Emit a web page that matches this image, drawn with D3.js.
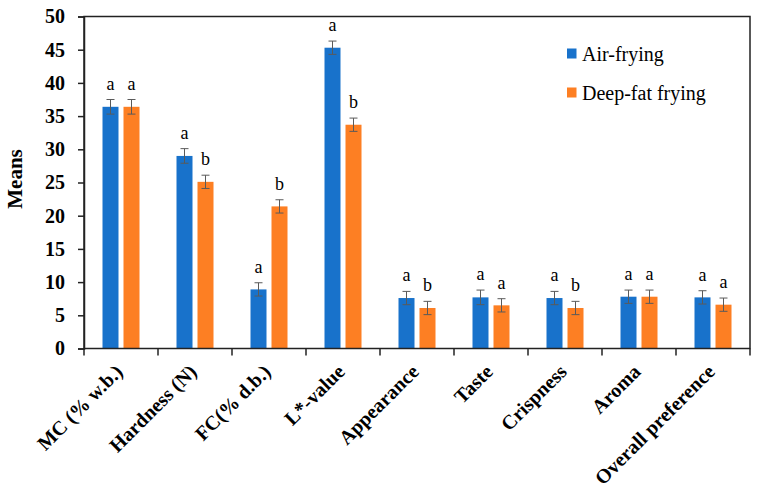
<!DOCTYPE html>
<html><head><meta charset="utf-8">
<script src="https://cdn.jsdelivr.net/npm/d3@7/dist/d3.min.js"></script>
<style>body{margin:0;background:#fff}svg{display:block}</style>
</head><body>
<script>
const categories = ["MC (% w.b.)","Hardness (N)","FC(% d.b.)","L*-value","Appearance","Taste","Crispness","Aroma","Overall preference"];
const seriesNames = ["Air-frying","Deep-fat frying"];
const airFrying = [36.4, 29.0, 8.9, 45.3, 7.6, 7.7, 7.6, 7.8, 7.7];
const deepFat   = [36.4, 25.1, 21.4, 33.7, 6.1, 6.5, 6.1, 7.8, 6.6];
const airErr    = [1.1, 1.1, 1.0, 1.0, 1.0, 1.1, 1.0, 1.0, 1.0];
const deepErr   = [1.1, 1.0, 1.0, 1.0, 1.0, 1.0, 1.0, 1.0, 1.0];
const airLetters  = ["a","a","a","a","a","a","a","a","a"];
const deepLetters = ["a","b","b","b","b","a","b","a","a"];
const yTicks = [0,5,10,15,20,25,30,35,40,45,50];
const colors = ["#1872CB","#FD7F23"];

const W=760,H=493;
const m={left:84,right:10,top:16.5,bottom:145};
const svg=d3.select("body").append("svg").attr("width",W).attr("height",H);
const x=d3.scaleBand().domain(categories).range([m.left,W-m.right]).paddingInner(0).paddingOuter(0);
const y=d3.scaleLinear().domain([0,50]).range([H-m.bottom+0.5,m.top]);
const serif="'Liberation Serif','Times New Roman',serif";

const series=[airFrying,deepFat], errs=[airErr,deepErr], letters=[airLetters,deepLetters];
const barW=16, gap=5;
const off=[-(gap/2+barW),gap/2];

series.forEach((vals,si)=>{
  const g=svg.append("g");
  categories.forEach((c,i)=>{
    const cx=x(c)+x.bandwidth()/2;
    const bx=cx+off[si];
    g.append("rect").attr("x",bx).attr("y",y(vals[i])).attr("width",barW)
      .attr("height",y(0)-y(vals[i])).attr("fill",colors[si]);
    const ex=bx+barW/2, hi=y(vals[i]+errs[si][i]), lo=y(vals[i]-errs[si][i]);
    g.append("line").attr("x1",ex).attr("x2",ex).attr("y1",hi).attr("y2",lo).attr("stroke","#5a5a5a").attr("stroke-width",1);
    [hi,lo].forEach(yy=>g.append("line").attr("x1",ex-4).attr("x2",ex+4).attr("y1",yy).attr("y2",yy).attr("stroke","#5a5a5a").attr("stroke-width",1));
    g.append("text").attr("x",ex).attr("y",hi-10).attr("text-anchor","middle")
      .attr("font-family",serif).attr("font-size",18).attr("fill","#000").text(letters[si][i]);
  });
});

// frame
svg.append("rect").attr("x",m.left).attr("y",m.top).attr("width",W-m.right-m.left).attr("height",y(0)-m.top)
  .attr("fill","none").attr("stroke","#222").attr("stroke-width",1.5);

// y axis
const ya=svg.append("g").attr("transform",`translate(${m.left},0)`)
  .call(d3.axisLeft(y).tickValues(yTicks).tickSize(6).tickPadding(13).tickFormat(d3.format("d")));
ya.select(".domain").attr("stroke","#222").attr("stroke-width",1.5);
ya.selectAll(".tick line").attr("stroke","#222").attr("stroke-width",1.5);
ya.selectAll("text").attr("font-family",serif).attr("font-size",20).attr("font-weight","bold").attr("fill","#000");

// x axis ticks at boundaries
const xa=svg.append("g").attr("transform",`translate(0,${y(0)})`);
const bounds=categories.map(c=>x(c)).concat([W-m.right]);
xa.selectAll("line").data(bounds).enter().append("line")
  .attr("x1",d=>d).attr("x2",d=>d).attr("y1",0).attr("y2",7).attr("stroke","#222").attr("stroke-width",1.5);
xa.selectAll("text").data(categories).enter().append("text")
  .attr("transform",d=>`translate(${x(d)+x.bandwidth()/2-2},${368-y(0)}) rotate(-45)`)
  .attr("text-anchor","end").attr("dy","0.35em")
  .attr("font-family",serif).attr("font-size",20).attr("font-weight","bold").attr("fill","#000").text(d=>d);

// y title
svg.append("text").attr("transform",`translate(22,179) rotate(-90)`)
  .attr("text-anchor","middle").attr("font-family",serif).attr("font-size",21).attr("font-weight","bold").text("Means");

// legend
const lg=svg.append("g");
seriesNames.forEach((n,i)=>{
  const ly=61+i*39;
  lg.append("rect").attr("x",567).attr("y",ly-12.5).attr("width",9.5).attr("height",10).attr("fill",colors[i]);
  lg.append("text").attr("x",582).attr("y",ly).attr("font-family",serif).attr("font-size",20).attr("fill","#000").text(n);
});
</script>
</body></html>
